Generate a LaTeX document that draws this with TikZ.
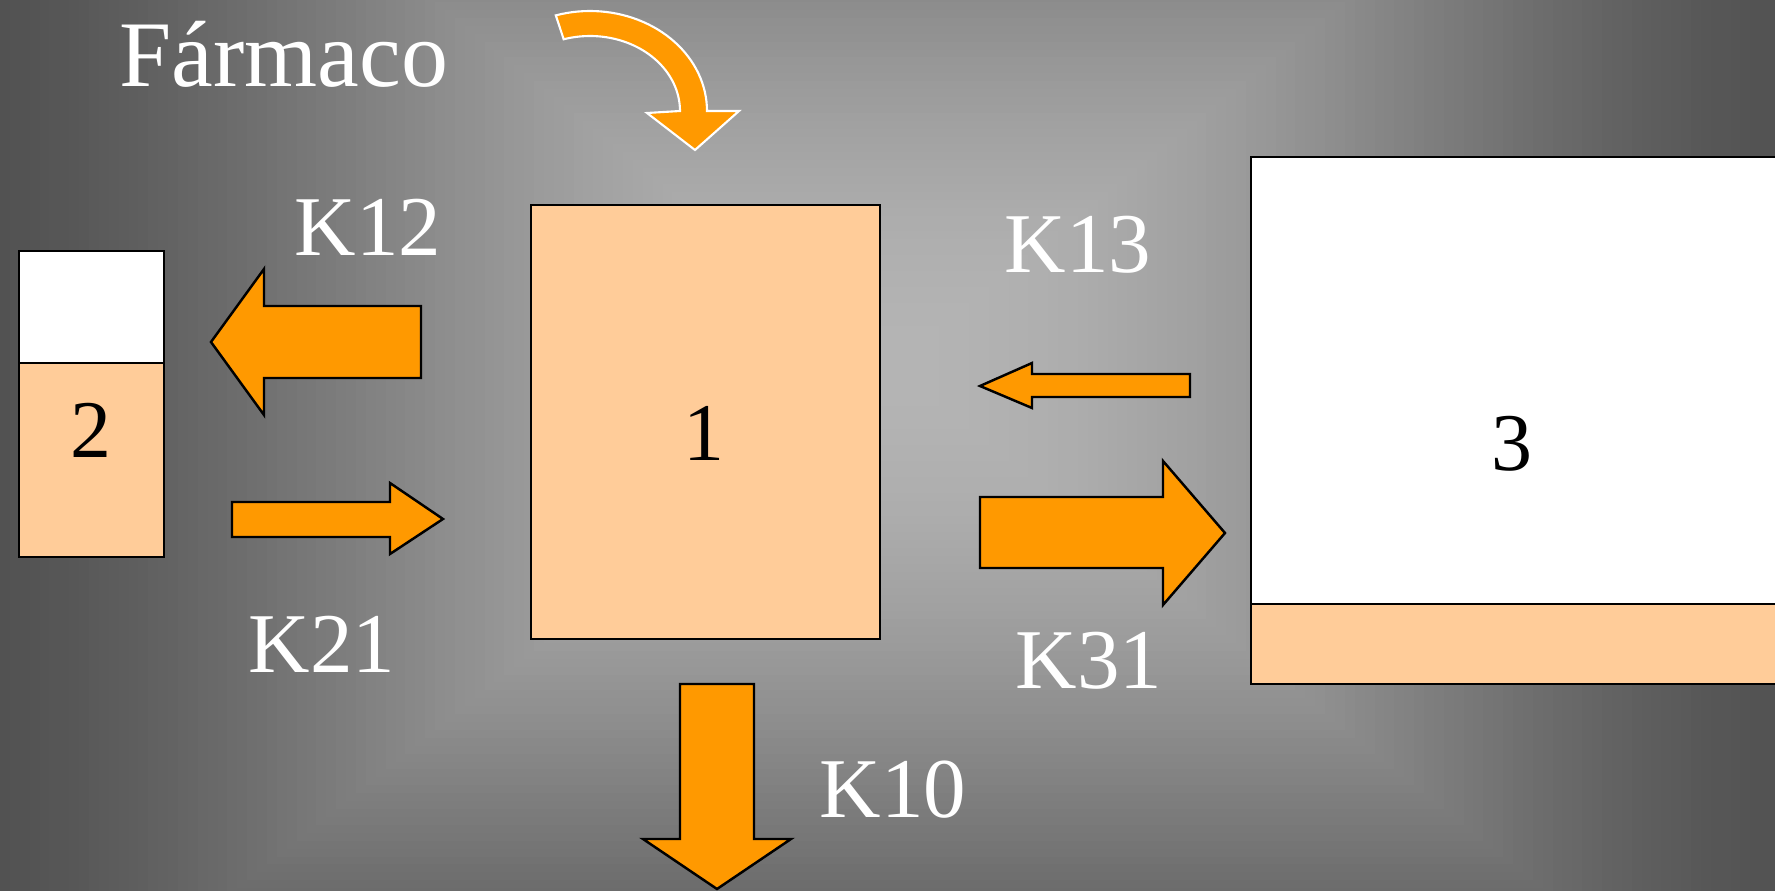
\documentclass[tikz,border=0pt]{standalone}
\usepackage{fontspec}
\setmainfont{Liberation Serif}
\usetikzlibrary{calc}

\definecolor{drugorange}{HTML}{FF9900}
\definecolor{peach}{HTML}{FFCC99}
\definecolor{bgedge}{gray}{0.32}

\tikzset{
  outline/.style={draw=black, line width=0.7pt, line join=miter},
  compartment/.style={outline, fill=peach},
  emptypart/.style={outline, fill=white},
  blockarrow/.style={outline, fill=drugorange},
  ratelabel/.style={text=white, inner sep=0pt, anchor=base,
    font=\fontsize{24.2}{28}\selectfont},
  numlabel/.style={text=black, inner sep=0pt, anchor=base,
    font=\fontsize{23.3}{28}\selectfont},
  titlelabel/.style={text=white, inner sep=0pt, anchor=base,
    font=\fontsize{26.7}{31}\selectfont},
}

\begin{document}
\begin{tikzpicture}[x=0.01cm, y=-0.01cm]
\useasboundingbox (0,0) rectangle (1775,891);
\begin{scope}
\clip (0,0) rectangle (1775,891);

% background: rectangular grey gradient, light in the middle
\fill[bgedge] (0,0) rectangle (1775,891);
\foreach \i in {0,...,89} {
  \pgfmathsetmacro\d{1-\i/90}
  \pgfmathsetmacro\g{(180-170*\d*\d+72*\d*\d*\d*\d)/255}
  \definecolor{bgstep}{gray}{\g}
  \fill[bgstep] ({890-890*\d},{366-712*\d}) rectangle ({890+890*\d},{366+712*\d});
}

% compartment 2 (peripheral, small)
\draw[emptypart]   (19,251) rectangle (164,363);
\draw[compartment] (19,363) rectangle (164,557);
\node[numlabel] (n2) at (91,458) {2};

% compartment 1 (central)
\draw[compartment] (531,205) rectangle (880,639);
\node[numlabel] (n1) at (704,460) {1};

% compartment 3 (deep)
\draw[emptypart]   (1251,157) rectangle (1790,604);
\draw[compartment] (1251,604) rectangle (1790,684);
\node[numlabel] (n3) at (1512,470) {3};

% dose entering the central compartment
\filldraw[fill=drugorange, draw=white, line width=0.6pt, line join=miter]
  plot[domain=-107:0, samples=40] ({590+117*cos(\x)}, {111+100*sin(\x)})
  -- (739,111) -- (695,150) -- (647,113)
  -- plot[domain=0:-107, samples=40] ({590+90*cos(\x)}, {111+75*sin(\x)})
  -- cycle;
\node[titlelabel] (drug) at (284,87) {Fármaco};

% transfer 1 -> 2
\draw[blockarrow] (211,342) -- (264,269) -- (264,306) -- (421,306)
  -- (421,378) -- (264,378) -- (264,415) -- cycle;
\node[ratelabel] (k12) at (368,255) {K12};

% transfer 2 -> 1
\draw[blockarrow] (232,502) -- (390,502) -- (390,483) -- (443,519)
  -- (390,554) -- (390,537) -- (232,537) -- cycle;
\node[ratelabel] (k21) at (322,672) {K21};

% transfer 3 -> 1
\draw[blockarrow] (980,386) -- (1032,363) -- (1032,374) -- (1190,374)
  -- (1190,397) -- (1032,397) -- (1032,408) -- cycle;
\node[ratelabel] (k13) at (1078,273) {K13};

% transfer 1 -> 3
\draw[blockarrow] (980,497) -- (1163,497) -- (1163,461) -- (1225,533)
  -- (1163,605) -- (1163,568) -- (980,568) -- cycle;
\node[ratelabel] (k31) at (1089,688) {K31};

% elimination
\draw[blockarrow] (680,684) -- (754,684) -- (754,839) -- (791,839)
  -- (717,889) -- (643,839) -- (680,839) -- cycle;
\node[ratelabel] (k10) at (893,817) {K10};

\end{scope}
\end{tikzpicture}
\end{document}
